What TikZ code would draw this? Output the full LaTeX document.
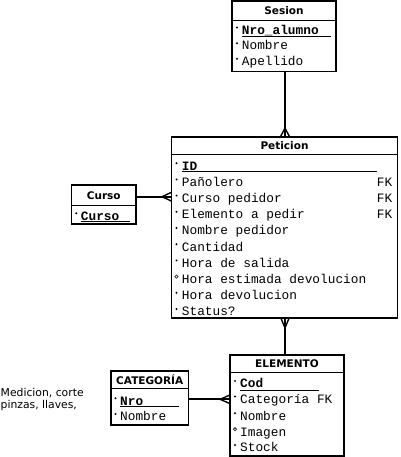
\documentclass[tikz,border=0pt]{standalone}
\usepackage{fontspec}
\setmainfont{DejaVu Sans}
\newfontfamily\monof{Liberation Mono}
\begin{document}
\begin{tikzpicture}[x=1pt,y=-1pt,
  box/.style={draw,line width=1.8pt,rectangle,inner sep=0pt},
  divider/.style={line width=0.9pt},
  head/.style={anchor=base,inner sep=0pt,font=\fontsize{10.5}{12}\selectfont\bfseries},
  attr/.style={anchor=base west,inner sep=0pt,font=\monof\fontsize{12.8}{14}\selectfont},
  pk/.style={attr,font=\monof\fontsize{12.8}{14}\selectfont\bfseries},
  note/.style={anchor=base west,inner sep=0pt,font=\fontsize{10.8}{12}\selectfont},
  conn/.style={line width=1.8pt},
  crow/.style={line width=1.4pt},
  req/.style={fill=black,circle,inner sep=0pt,minimum size=2.2pt},
  opt/.style={draw=black,line width=0.6pt,circle,inner sep=0pt,minimum size=3.2pt},
  uline/.style={line width=0.9pt}]
\useasboundingbox (0,0) rectangle (400,457);
\fill[white] (0,0) rectangle (400,457);

% ---------- Sesion ----------
\node[box,minimum width=104pt,minimum height=70.5pt] (sesion) at (284,36.25) {};
\draw[divider] (sesion.west |- 0,20) -- (sesion.east |- 0,20);
\node[head] (sesionh) at (284,14.4) {Sesion};
\node[req] (s1b) at (237,27.5) {};
\node[pk] (s1) at (241.7,34.3) {Nro\_alumno};
\draw[uline] (241.7,36) -- (330.7,36);
\node[req] (s2b) at (237,43.2) {};
\node[attr] (s2) at (241.7,50) {Nombre};
\node[req] (s3b) at (237,58.7) {};
\node[attr] (s3) at (241.7,65.5) {Apellido};

% ---------- Peticion ----------
\node[box,minimum width=226pt,minimum height=181.6pt] (peticion) at (284.5,227.5) {};
\draw[divider] (peticion.west |- 0,154) -- (peticion.east |- 0,154);
\node[head] (peticionh) at (284.5,149.5) {Peticion};
\node[req] (p1b) at (176.5,163.2) {};
\node[pk] (p1) at (181.7,170) {ID};
\draw[uline] (181.7,171.9) -- (377.3,171.9);
\node[req] (p2b) at (176.5,179.4) {};
\node[attr] (p2) at (181.7,186.2) {Pañolero};
\node[attr] (p2fk) at (376.7,186.2) {FK};
\node[req] (p3b) at (176.5,195.6) {};
\node[attr] (p3) at (181.7,202.4) {Curso pedidor};
\node[attr] (p3fk) at (376.7,202.4) {FK};
\node[req] (p4b) at (176.5,211.8) {};
\node[attr] (p4) at (181.7,218.6) {Elemento a pedir};
\node[attr] (p4fk) at (376.7,218.6) {FK};
\node[req] (p5b) at (176.5,228) {};
\node[attr] (p5) at (181.7,234.8) {Nombre pedidor};
\node[req] (p6b) at (176.5,244.2) {};
\node[attr] (p6) at (181.7,251) {Cantidad};
\node[req] (p7b) at (176.5,260.4) {};
\node[attr] (p7) at (181.7,267.2) {Hora de salida};
\node[opt] (p8b) at (176.5,276.6) {};
\node[attr] (p8) at (181.7,283.4) {Hora estimada devolucion};
\node[req] (p9b) at (176.5,292.8) {};
\node[attr] (p9) at (181.7,299.6) {Hora devolucion};
\node[req] (p10b) at (176.5,309) {};
\node[attr] (p10) at (181.7,315.8) {Status?};

% ---------- Curso ----------
\node[box,minimum width=64.5pt,minimum height=39pt] (curso) at (103.75,204.5) {};
\draw[divider] (curso.west |- 0,205) -- (curso.east |- 0,205);
\node[head] (cursoh) at (103.75,199.5) {Curso};
\node[req] (c1b) at (76.2,213.2) {};
\node[pk] (c1) at (80.7,220) {Curso};
\draw[uline] (80.7,221.7) -- (130,221.7);

% ---------- CATEGORIA ----------
\node[box,minimum width=77.5pt,minimum height=54.3pt] (categoria) at (149.75,397.85) {};
\draw[divider] (categoria.west |- 0,388) -- (categoria.east |- 0,388);
\node[head] (categoriah) at (149.75,384.8) {CATEGORÍA};
\node[req] (k1b) at (115.5,398.2) {};
\node[pk] (k1) at (120,405) {Nro};
\draw[uline] (120,406.8) -- (179,406.8);
\node[req] (k2b) at (115.5,413.9) {};
\node[attr] (k2) at (120,420.7) {Nombre};

% ---------- ELEMENTO ----------
\node[box,minimum width=114pt,minimum height=101pt] (elemento) at (287,405.5) {};
\draw[divider] (elemento.west |- 0,372) -- (elemento.east |- 0,372);
\node[head] (elementoh) at (287,367.2) {ELEMENTO};
\node[req] (e1b) at (235,380.9) {};
\node[pk] (e1) at (240,387.7) {Cod};
\draw[uline] (240,390) -- (319,390);
\node[req] (e2b) at (235,396.5) {};
\node[attr] (e2) at (240,403.3) {Categoría FK};
\node[req] (e3b) at (235,413.2) {};
\node[attr] (e3) at (240,420) {Nombre};
\node[opt] (e4b) at (235,429.2) {};
\node[attr] (e4) at (240,436) {Imagen};
\node[req] (e5b) at (235,444.9) {};
\node[attr] (e5) at (240,451.7) {Stock};

% ---------- note ----------
\node[note] (n1) at (0.5,396) {Medicion, corte};
\node[note] (n2) at (0.5,408) {pinzas, llaves,};

% ---------- connectors ----------
% Sesion -- Peticion
\draw[conn] (sesion.south -| 285,0) -- (peticion.north -| 285,0);
\draw[crow] (280.5,136.7) -- (285,128) -- (289.5,136.7);
% Curso -- Peticion
\draw[conn] (curso.east |- 0,196.7) -- (peticion.west |- 0,196.7);
\draw[crow] (171.5,192.3) -- (162,196.7) -- (171.5,201.1);
% Peticion -- ELEMENTO
\draw[conn] (peticion.south -| 285,0) -- (elemento.north -| 285,0);
\draw[crow] (281,318.3) -- (285,328) -- (289,318.3);
% CATEGORIA -- ELEMENTO
\draw[conn] (categoria.east |- 0,399.3) -- (elemento.west |- 0,399.3);
\draw[crow] (230,395) -- (220,399.3) -- (230,403.6);
\end{tikzpicture}
\end{document}
